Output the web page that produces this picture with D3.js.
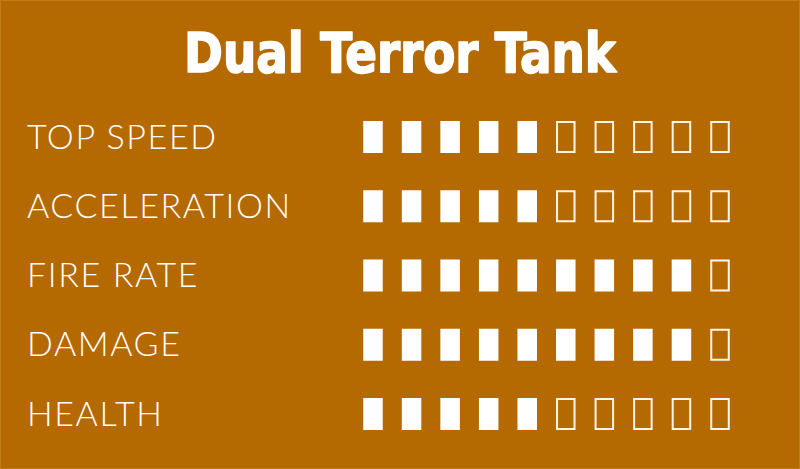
<!DOCTYPE html>
<html>
<head>
<meta charset="utf-8">
<script src="https://cdn.jsdelivr.net/npm/d3@7"></script>
<style>
  html, body { margin: 0; padding: 0; background: #b46a00; }
  svg { display: block; }
</style>
</head>
<body>
<svg id="chart" width="800" height="469"></svg>
<script>
// ---- data ----
const title = "Dual Terror Tank";
const categories = ["TOP SPEED", "ACCELERATION", "FIRE RATE", "DAMAGE", "HEALTH"];
const values = [5, 5, 9, 9, 5];
const maxValue = 10;

// ---- drawing ----
const W = 800, H = 469;
const svg = d3.select("#chart");

svg.append("rect")
  .attr("x", 0.5).attr("y", 0.5)
  .attr("width", W - 1).attr("height", H - 1)
  .attr("fill", "#b46a00")
  .attr("stroke", "#c27c1a").attr("stroke-width", 1);

const t = svg.append("text")
  .attr("x", W / 2).attr("y", 72)
  .attr("text-anchor", "middle")
  .attr("fill", "#ffffff")
  .attr("stroke", "#ffffff").attr("stroke-width", 1.6)
  .attr("stroke-linejoin", "round")
  .attr("font-family", "'DejaVu Sans Condensed', 'DejaVu Sans', sans-serif")
  .attr("font-weight", "bold")
  .attr("font-size", 55)
  .text(title);
t.attr("textLength", 432).attr("lengthAdjust", "spacingAndGlyphs");

const y = d3.scalePoint().domain(categories).range([137, 414]);
const x = d3.scalePoint().domain(d3.range(maxValue)).range([373, 720]);

const boxW = 19.5, boxH = 32;

const rows = svg.selectAll("g.row")
  .data(categories.map((c, i) => ({ name: c, value: values[i] })))
  .join("g").attr("class", "row");

rows.append("text")
  .attr("x", 27)
  .attr("y", d => y(d.name) + 11.5)
  .attr("fill", "#ffffff")
  .attr("font-family", "Lato, 'Open Sans', sans-serif")
  .attr("font-weight", 300)
  .attr("font-size", 34)
  .attr("letter-spacing", 1.6)
  .text(d => d.name);

rows.selectAll("rect.box")
  .data(d => d3.range(maxValue).map(k => ({ k, filled: k < d.value, name: d.name })))
  .join("rect").attr("class", "box")
  .attr("x", d => x(d.k) - boxW / 2 + (d.filled ? 0 : 1))
  .attr("y", d => y(d.name) - boxH / 2 + (d.filled ? 0 : 1))
  .attr("width", d => d.filled ? boxW : boxW - 2)
  .attr("height", d => d.filled ? boxH : boxH - 2)
  .attr("fill", d => d.filled ? "#ffffff" : "none")
  .attr("stroke", d => d.filled ? "none" : "#fff6e8")
  .attr("stroke-width", 2);
</script>
</body>
</html>
